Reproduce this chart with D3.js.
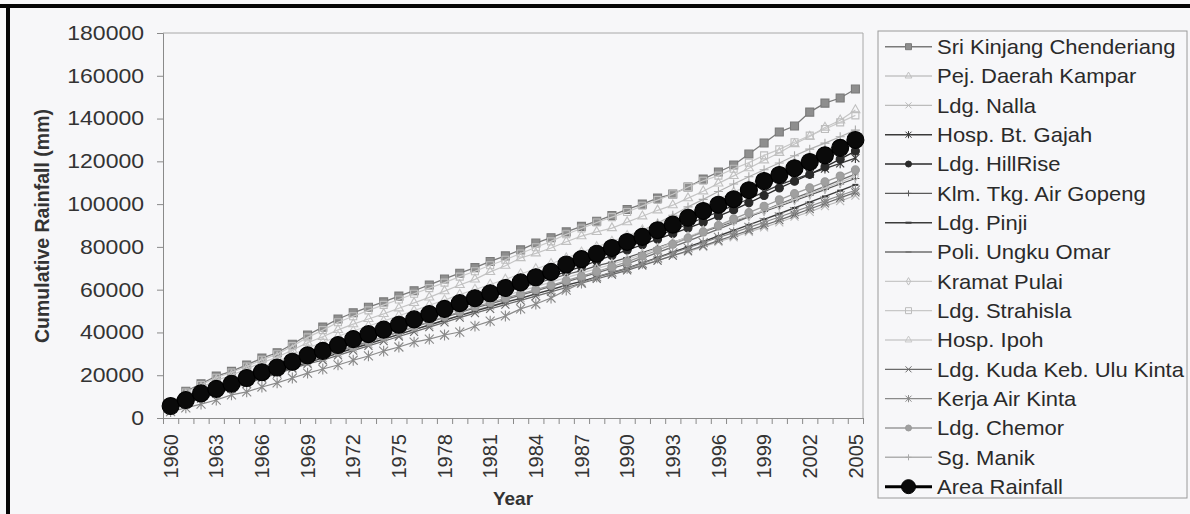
<!DOCTYPE html>
<html>
<head>
<meta charset="utf-8">
<script src="https://cdn.jsdelivr.net/npm/d3@7"></script>
<style>
  html, body { margin: 0; padding: 0; background: #f7f7f9; }
  svg { display: block; font-family: "Liberation Sans", Arial, sans-serif; }
</style>
</head>
<body>
<svg id="chart" width="1190" height="514"></svg>
<script>
// ---- data: cumulative rainfall (mm), 1960-2005 ----
const years = d3.range(1960, 2006);
const yearLabels = ["1960","1963","1966","1969","1972","1975","1978","1981","1984","1987","1990","1993","1996","1999","2002","2005"];
const yTicks = [0, 20000, 40000, 60000, 80000, 100000, 120000, 140000, 160000, 180000];

const sriKinjang = [6500,12500,16000,19600,21800,24800,28000,30500,34500,38800,42500,46300,49200,51800,54300,57000,59500,62200,65000,67700,70300,73200,75800,78600,81800,84300,87000,89600,92000,94700,97500,100000,102800,104700,108000,111700,115000,118300,123400,128600,133700,136500,143000,147200,149600,153800];
const pejDaerahKampar = [5500,10800,14200,17600,20000,23000,25900,28400,31800,35200,38000,41200,43900,46300,48700,51300,53800,56400,59300,62200,64800,68300,71200,74800,77000,79500,82400,85000,87000,88800,91600,94300,97100,99500,102800,106000,109700,113200,116800,120500,124000,128100,131600,135800,139200,144000];
const ldgNalla = [4500,7000,9500,11600,14100,16300,18900,21200,23400,25900,28000,30200,32600,34600,37000,39000,41400,43400,45800,48000,50500,52300,54400,56100,58200,59900,62000,63700,65800,67500,69500,71700,73600,75900,77800,80000,82400,84500,87000,89100,91500,94100,96400,99100,101400,104000];
const hospBtGajah = [5200,8000,10900,13300,15700,18200,20900,23200,26000,28700,31000,33500,35900,38300,40600,43000,45400,47900,50400,53000,55500,57600,59800,62100,64500,67000,69600,72200,74700,77300,80000,82500,85200,87800,90600,93500,96400,99400,102400,105700,109000,111600,114100,116600,119000,121500];
const ldgHillRise = [5000,7600,10300,12600,14900,17400,20000,22300,25100,27800,30100,32700,35000,37400,39700,42100,44500,46900,49300,51800,54100,56300,58700,61200,63600,66000,68400,70800,73400,76000,78500,81000,83600,86200,88800,91500,94400,97300,100600,104000,107500,110700,113900,117400,121000,124800];
const klmTkgAirGopeng = [5300,8100,10900,13500,16000,18700,21500,24000,26900,29700,32000,34500,36900,39300,41700,44100,46500,48800,51000,53100,55000,57100,58900,61100,62900,65000,67100,68900,71100,72900,75000,77400,79700,82100,84500,87000,89400,91900,94200,96600,99000,101600,104200,106800,109400,112000];
const ldgPinji = [4600,7100,9600,11900,14200,16600,19100,21300,23700,26000,28000,30300,32500,34700,36900,39100,41300,43500,45700,47900,50000,52000,54100,55900,58000,60000,62100,63900,66000,68000,70000,72500,75000,77500,80000,82500,85100,87700,90300,92900,95500,98200,100900,103600,106300,109000];
const poliUngkuOmar = [4500,7000,9600,12000,14400,16900,19500,21800,24400,26900,29000,31300,33500,35700,37900,40200,42500,44800,47000,49300,51500,53400,55400,57400,59400,61500,63600,65700,67800,69900,72000,74700,77300,80000,82700,85500,88300,91100,94000,97000,100000,102800,105500,108300,111200,114000];
const kramatPulai = [4700,7300,9900,12300,14800,17300,19900,22200,24800,27300,29500,31900,34200,36500,38900,41300,43700,46100,48400,50800,53000,55100,57200,59300,61400,63500,65600,67700,69800,71900,74000,76600,79300,82000,84700,87500,89900,92200,94600,97000,99500,102200,104800,107500,110200,113000];
const ldgStrahisla = [6200,11900,15400,18800,21300,24100,27200,29800,33600,37700,41100,44800,47600,50300,52900,55400,58100,60700,63300,66100,68600,71400,74000,76900,79800,82600,85900,88600,91400,93900,96300,99200,101900,104600,108000,110900,113300,116500,119400,122800,125600,128900,132000,135100,138200,141500];
const hospIpoh = [5100,9700,12800,15900,18300,21000,23900,26400,29600,32700,35300,38200,40700,43000,45300,47800,50200,52700,55100,57700,60100,62400,64800,67300,69700,72100,74800,77500,80000,82500,85200,87900,90600,93400,96200,99100,102300,105500,109000,112600,116000,119300,122200,125200,128100,131000];
const ldgKudaKebUluKinta = [4200,6700,9100,11400,13700,16000,18500,20700,23100,25300,27000,29300,31500,33700,35900,38100,40300,42500,44700,46900,49000,51000,53000,55000,57000,59000,61000,63000,65000,67000,69000,71300,73600,75900,78200,80500,82900,85300,87700,90100,92500,95100,97700,100300,102900,105500];
const kerjaAirKinta = [3000,4700,6500,8400,10800,12200,14500,16400,18700,21000,22900,24800,27000,29000,31300,33200,35500,36900,38800,40200,43000,45300,47700,51000,53300,56100,59800,63100,66000,68200,70000,72300,74800,77200,79500,82000,84400,86700,89100,91500,94000,96500,99000,101500,104000,106500];
const ldgChemor = [4800,7500,10000,12300,14600,17100,19500,21700,24200,26500,28500,30900,33200,35500,37900,40400,42700,45000,47400,49700,52000,54000,56000,58000,60000,62000,64200,66300,68500,70700,73000,75700,78400,81200,84100,87000,90000,93100,96000,99000,102000,104900,107600,110400,113100,116000];
const sgManik = [5000,8200,11000,13700,16200,18800,21600,24000,27100,30200,33000,35600,38100,40500,42800,45200,47500,49900,51900,54100,56300,58600,61000,63200,65600,68200,71400,74700,77800,80900,84300,87600,91100,94800,98700,102200,105900,109400,112800,116100,119200,122600,125700,128500,131500,134600];
const areaRainfall = [5600,8400,11500,13600,16000,18700,21400,23600,26300,29300,31400,34100,36900,39200,41300,43600,46100,48600,51000,53700,56000,58300,60800,63400,65800,68300,71800,74300,76800,79500,82300,84700,87800,90400,93600,96800,99700,102300,106500,110800,113600,116800,119700,122800,126300,130000];

const stationNames = ["Sri Kinjang Chenderiang","Pej. Daerah Kampar","Ldg. Nalla","Hosp. Bt. Gajah","Ldg. HillRise","Klm. Tkg. Air Gopeng","Ldg. Pinji","Poli. Ungku Omar","Kramat Pulai","Ldg. Strahisla","Hosp. Ipoh","Ldg. Kuda Keb. Ulu Kinta","Kerja Air Kinta","Ldg. Chemor","Sg. Manik","Area Rainfall"];
const stationValues = [sriKinjang, pejDaerahKampar, ldgNalla, hospBtGajah, ldgHillRise, klmTkgAirGopeng, ldgPinji, poliUngkuOmar, kramatPulai, ldgStrahisla, hospIpoh, ldgKudaKebUluKinta, kerjaAirKinta, ldgChemor, sgManik, areaRainfall];

// ---- styling per series (kept apart from the values) ----
const styles = [
  {line:"#7a7a7a", lw:1.3, mark:"square",   size:8,  stroke:"#7a7a7a", fill:"#8e8e8e"},
  {line:"#c4c4c4", lw:1.2, mark:"triangle", size:8,  stroke:"#c0c0c0", fill:"none"},
  {line:"#bcbcbc", lw:1.2, mark:"x",        size:4,  stroke:"#b8b8b8", fill:"none"},
  {line:"#3a3a3a", lw:1.3, mark:"asterisk", size:4,  stroke:"#3a3a3a", fill:"none"},
  {line:"#2a2a2a", lw:1.3, mark:"circle",   size:4,  stroke:"#2a2a2a", fill:"#2a2a2a"},
  {line:"#5a5a5a", lw:1.2, mark:"plus",     size:4,  stroke:"#5a5a5a", fill:"none"},
  {line:"#3c3c3c", lw:1.4, mark:"dash",     size:3,  stroke:"#3c3c3c", fill:"none"},
  {line:"#6e6e6e", lw:1.3, mark:"dash",     size:3,  stroke:"#7a7a7a", fill:"none"},
  {line:"#c8c8c8", lw:1.2, mark:"diamond",  size:8,  stroke:"#c0c0c0", fill:"none"},
  {line:"#c8c8c8", lw:1.2, mark:"square",   size:7,  stroke:"#bdbdbd", fill:"none"},
  {line:"#cdcdcd", lw:1.2, mark:"triangle", size:8,  stroke:"#c8c8c8", fill:"none"},
  {line:"#6a6a6a", lw:1.2, mark:"x",        size:4,  stroke:"#6a6a6a", fill:"none"},
  {line:"#8a8a8a", lw:1.2, mark:"asterisk", size:4.5,stroke:"#8a8a8a", fill:"none"},
  {line:"#9a9a9a", lw:1.2, mark:"circle",   size:4,  stroke:"#9a9a9a", fill:"#a0a0a0"},
  {line:"#b0b0b0", lw:1.2, mark:"plus",     size:4.5,stroke:"#aaaaaa", fill:"none"},
  {line:"#000000", lw:2.6, mark:"circle",   size:8.5,stroke:"#000000", fill:"#0a0a0a"}
];

function markerPath(type, s) {
  switch (type) {
    case "square":   return d3.symbol(d3.symbolSquare, s * s)();
    case "triangle": return d3.symbol(d3.symbolTriangle, s * s * 0.55)();
    case "diamond":  return d3.symbol(d3.symbolDiamond, s * s * 0.45)();
    case "circle":   return d3.symbol(d3.symbolCircle, Math.PI * s * s)();
    case "x":        return `M${-s},${-s}L${s},${s}M${-s},${s}L${s},${-s}`;
    case "asterisk": return `M${-s},${-s}L${s},${s}M${-s},${s}L${s},${-s}M0,${-s * 1.2}V${s * 1.2}`;
    case "plus":     return `M${-s},0H${s}M0,${-s}V${s}`;
    case "dash":     return `M${-s},0H${s}`;
  }
}

const svg = d3.select("#chart");
svg.append("rect").attr("width", 1190).attr("height", 514).attr("fill", "#f7f7f9");

// frame of the page
svg.append("rect").attr("x", 0).attr("y", 4).attr("width", 1190).attr("height", 4).attr("fill", "#050505");
svg.append("rect").attr("x", 6).attr("y", 4).attr("width", 4).attr("height", 510).attr("fill", "#050505");

const plotLeft = 163, plotRight = 863, plotTop = 33, plotBottom = 418;
const y = d3.scaleLinear().domain([0, 180000]).range([plotBottom, plotTop]);
const xb = d3.scaleLinear().domain([0, years.length]).range([plotLeft, plotRight]);
const xc = yr => xb(years.indexOf(yr) + 0.5);

// plot border (top and right)
svg.append("path")
  .attr("d", `M${plotLeft},${plotTop}H${plotRight}V${plotBottom}`)
  .attr("fill", "none").attr("stroke", "#a8a8a8").attr("stroke-width", 1);

// y axis
const gy = svg.append("g").attr("transform", `translate(${plotLeft},0)`)
  .call(d3.axisLeft(y).tickValues(yTicks).tickSize(6).tickPadding(13).tickFormat(d3.format("d")));
gy.select(".domain").attr("stroke", "#8a8a8a");
gy.selectAll(".tick line").attr("stroke", "#8a8a8a");
gy.selectAll(".tick text").attr("fill", "#333").style("font-size", "20px")
  .each(function () { this.setAttribute("textLength", this.getComputedTextLength() * 1.15); this.setAttribute("lengthAdjust", "spacingAndGlyphs"); });

// x axis: ticks between categories
const gx = svg.append("g").attr("transform", `translate(0,${plotBottom})`)
  .call(d3.axisBottom(xb).tickValues(d3.range(0, years.length + 1)).tickSize(6).tickFormat(""));
gx.select(".domain").attr("stroke", "#8a8a8a");
gx.selectAll(".tick line").attr("stroke", "#8a8a8a");

svg.append("g").selectAll("text").data(yearLabels).join("text")
  .attr("transform", d => `translate(${xc(+d)},${plotBottom + 16}) rotate(-90)`)
  .attr("text-anchor", "end").attr("dy", "0.36em")
  .attr("fill", "#333").style("font-size", "20px")
  .text(d => d);

// axis titles
svg.append("text").attr("transform", `translate(49,226) rotate(-90)`)
  .attr("text-anchor", "middle").attr("fill", "#333")
  .style("font-size", "19.5px").style("font-weight", "bold")
  .text("Cumulative Rainfall (mm)");
svg.append("text").attr("x", 513).attr("y", 505)
  .attr("text-anchor", "middle").attr("fill", "#333")
  .style("font-size", "19px").style("font-weight", "bold")
  .text("Year");

// series
const line = d3.line().x((v, i) => xc(years[i])).y(v => y(v));
const plot = svg.append("g");
stationValues.forEach((vals, k) => {
  const st = styles[k];
  const g = plot.append("g");
  g.append("path").attr("d", line(vals)).attr("fill", "none")
    .attr("stroke", st.line).attr("stroke-width", st.lw);
  g.selectAll("path.m").data(vals).join("path").attr("class", "m")
    .attr("transform", (v, i) => `translate(${xc(years[i])},${y(v)})`)
    .attr("d", markerPath(st.mark, st.size))
    .attr("fill", st.fill).attr("stroke", st.stroke)
    .attr("stroke-width", st.mark === "dash" ? 2 : 1.1);
});

// legend
const lg = svg.append("g");
lg.append("rect").attr("x", 878).attr("y", 31).attr("width", 309).attr("height", 467)
  .attr("fill", "none").attr("stroke", "#9a9a9a").attr("stroke-width", 1);
const rowY = i => 46.7 + i * 29.33;
stationNames.forEach((name, i) => {
  const st = styles[i];
  const cy = rowY(i);
  lg.append("line").attr("x1", 885).attr("x2", 932).attr("y1", cy).attr("y2", cy)
    .attr("stroke", st.line).attr("stroke-width", i === 15 ? 3 : st.lw + 0.2);
  const ms = i === 15 ? 7 : (st.mark === "square" || st.mark === "triangle" || st.mark === "diamond") ? 6 : 3;
  lg.append("path").attr("transform", `translate(908.5,${cy})`)
    .attr("d", markerPath(st.mark, ms))
    .attr("fill", st.fill).attr("stroke", st.stroke)
    .attr("stroke-width", st.mark === "dash" ? 2 : 1);
  lg.append("text").attr("transform", `translate(937,${cy}) scale(1.1,1)`)
    .attr("dy", "0.36em")
    .attr("fill", "#2a2a2a").style("font-size", "20px").text(name);
});
</script>
</body>
</html>
